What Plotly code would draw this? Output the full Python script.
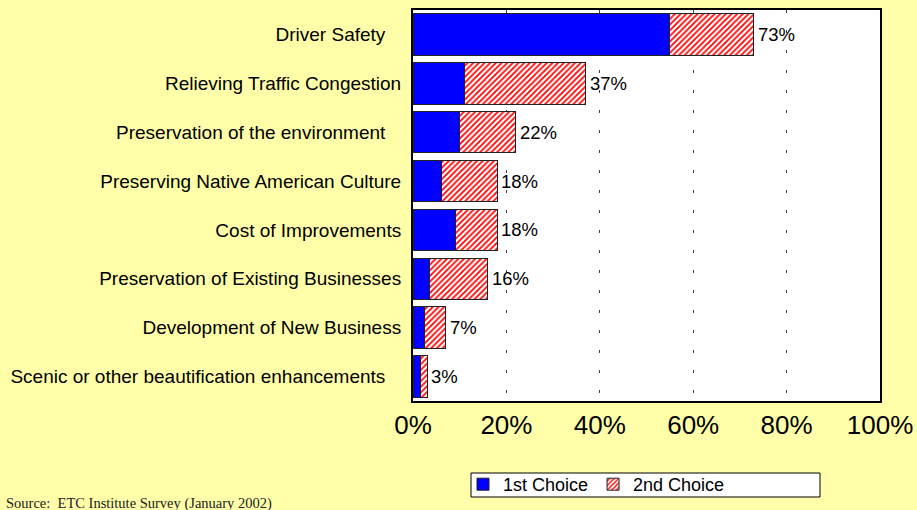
import plotly.graph_objects as go

categories = [
    "Driver Safety",
    "Relieving Traffic Congestion",
    "Preservation of the environment",
    "Preserving Native American Culture",
    "Cost of Improvements",
    "Preservation of Existing Businesses",
    "Development of New Business",
    "Scenic or other beautification enhancements",
]
# labels that carry trailing blanks in the original
padded = {"Driver Safety", "Preservation of the environment",
          "Scenic or other beautification enhancements"}
first_choice = [55, 11, 10, 6, 9, 3.5, 2.5, 1.5]
totals = [73, 37, 22, 18, 18, 16, 7, 3]
second_choice = [t - f for t, f in zip(totals, first_choice)]
x_ticks = [0, 20, 40, 60, 80, 100]

font = "Liberation Sans, Arial, sans-serif"

fig = go.Figure()

fig.add_trace(go.Bar(
    y=categories, x=first_choice, orientation="h", name="1st Choice",
    marker=dict(color="#0000FF", line=dict(color="#222222", width=1)),
))
fig.add_trace(go.Bar(
    y=categories, x=second_choice, orientation="h", name="2nd Choice",
    marker=dict(
        color="white",
        line=dict(color="#222222", width=1),
        pattern=dict(shape="/", fgcolor="#FF0000", bgcolor="white",
                     size=4, solidity=0.45, fillmode="replace"),
    ),
))

# total labels at the end of each bar
for cat, tot in zip(categories, totals):
    fig.add_annotation(
        x=tot, y=cat, text=f"{tot}%", showarrow=False,
        xanchor="left", xshift=2, font=dict(family=font, size=18.5, color="black"),
    )

# plot area spans x 413..880, y 10..401 (px)
def px(x):
    return (x - 413) / 467

def py(y):
    return (401 - y) / 391

# legend box
fig.add_shape(type="rect", xref="paper", yref="paper",
              x0=px(471), x1=px(820), y0=py(497), y1=py(473),
              line=dict(color="black", width=1), fillcolor="white", layer="below")

fig.add_annotation(
    text="Source:  ETC Institute Survey (January 2002)",
    xref="paper", yref="paper", x=px(4), y=py(503),
    xanchor="left", yanchor="middle", showarrow=False,
    font=dict(family="Liberation Serif, Times New Roman, serif", size=14.5, color="#222222"),
)

fig.update_layout(
    width=917, height=510,
    margin=dict(l=413, r=37, t=10, b=109, autoexpand=False),
    paper_bgcolor="#FFFFAA",
    plot_bgcolor="white",
    barmode="stack",
    bargap=0.15,
    font=dict(family=font, color="black"),
    legend=dict(
        orientation="h", x=px(463), y=py(466),
        xanchor="left", yanchor="top", bgcolor="rgba(0,0,0,0)",
        font=dict(size=18), traceorder="normal", itemwidth=30,
        tracegroupgap=0,
    ),
    xaxis=dict(
        range=[0, 100], tickvals=x_ticks, ticktext=[f"{v}%" for v in x_ticks],
        tickfont=dict(size=26), showgrid=True, gridcolor="#404040",
        griddash="3px,17px", gridwidth=1, zeroline=False,
        showline=True, mirror=True, linecolor="black", linewidth=2,
        ticks="", ticklabelstandoff=0, automargin=False,
    ),
    yaxis=dict(
        autorange="reversed", tickfont=dict(size=19),
        tickvals=categories,
        ticktext=[c + "\u00a0" * 3 if c in padded else c for c in categories],
        showline=True, mirror=True, linecolor="black", linewidth=2,
        ticks="", ticklabelstandoff=6, showgrid=False, automargin=False,
    ),
)

fig.write_html("out.html", config={"displayModeBar": False},
               post_script="document.body.style.margin='0';")
